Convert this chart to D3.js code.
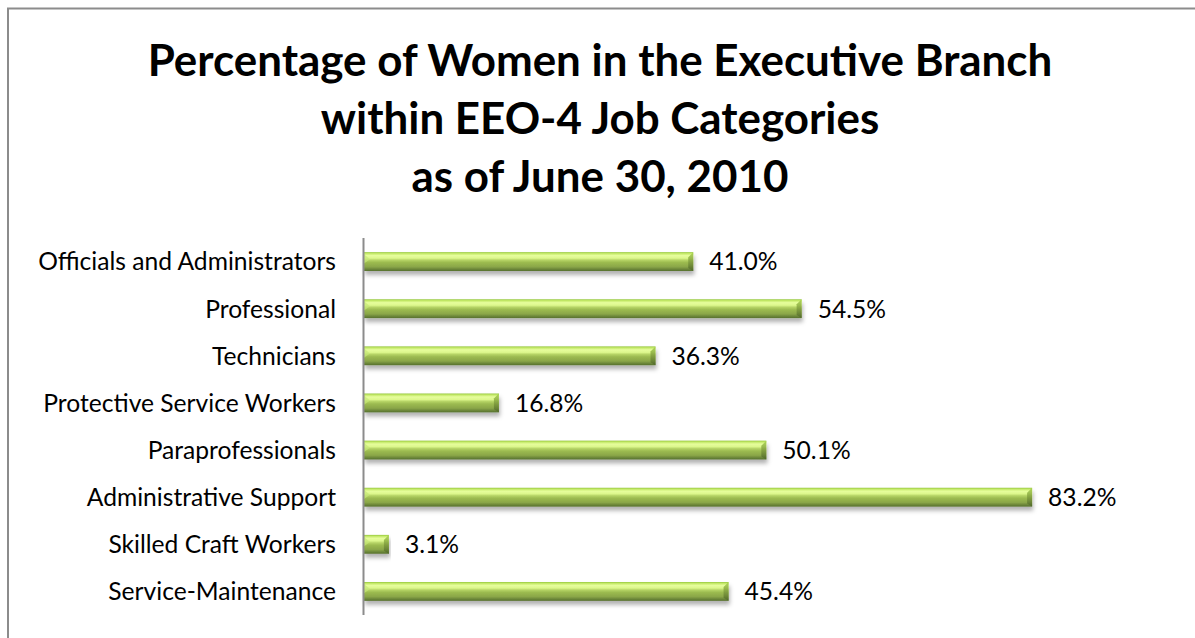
<!DOCTYPE html>
<html>
<head>
<meta charset="utf-8">
<script src="https://cdn.jsdelivr.net/npm/d3@7/dist/d3.min.js"></script>
<style>
  html, body { margin: 0; padding: 0; background: #fff; }
  svg { display: block; }
  text { font-family: Lato, "Open Sans", sans-serif; }
</style>
</head>
<body>
<svg id="chart" width="1195" height="638"></svg>
<script>
const categories = [
  "Officials and Administrators",
  "Professional",
  "Technicians",
  "Protective Service Workers",
  "Paraprofessionals",
  "Administrative Support",
  "Skilled Craft Workers",
  "Service-Maintenance"
];
const values = [41.0, 54.5, 36.3, 16.8, 50.1, 83.2, 3.1, 45.4];
const valueLabels = ["41.0%", "54.5%", "36.3%", "16.8%", "50.1%", "83.2%", "3.1%", "45.4%"];
const titleLines = [
  "Percentage of Women in the Executive Branch",
  "within EEO-4 Job Categories",
  "as of June 30, 2010"
];

const W = 1195, H = 638;
const svg = d3.select("#chart");
const defs = svg.append("defs");

const grad = defs.append("linearGradient")
  .attr("id", "barGrad").attr("x1", 0).attr("y1", 0).attr("x2", 0).attr("y2", 1);
[
  [0, "#94c63c"], [0.07, "#c2e866"], [0.18, "#e6fd9c"], [0.32, "#dcf78c"],
  [0.42, "#b6d466"], [0.55, "#9cbb50"], [0.78, "#8aa648"], [0.88, "#718c3c"], [1, "#56702e"]
].forEach(([o, c]) => grad.append("stop").attr("offset", o).attr("stop-color", c));

const endGrad = defs.append("linearGradient")
  .attr("id", "endGrad").attr("x1", 0).attr("y1", 0).attr("x2", 0).attr("y2", 1);
[[0, "#a8d24e"], [0.5, "#7f9c3e"], [1, "#4d6428"]]
  .forEach(([o, c]) => endGrad.append("stop").attr("offset", o).attr("stop-color", c));

const filt = defs.append("filter").attr("id", "shadow")
  .attr("x", "-5%").attr("y", "-50%").attr("width", "110%").attr("height", "250%");
filt.append("feDropShadow").attr("dx", 1).attr("dy", 4).attr("stdDeviation", 2.2)
  .attr("flood-color", "#000").attr("flood-opacity", 0.3);

// frame
svg.append("path")
  .attr("d", `M8,${H + 5} L8,8.5 L${W + 5},8.5`)
  .attr("fill", "none").attr("stroke", "#8c8c8c").attr("stroke-width", 2);

function fitFont(sel, targetWidth, startSize) {
  sel.style("font-size", startSize + "px");
  const w = sel.node().getComputedTextLength();
  sel.style("font-size", (startSize * targetWidth / w) + "px");
}

// title
const titleBaselines = [76, 134, 192];
const titleG = svg.append("g");
titleLines.forEach((t, i) => {
  titleG.append("text")
    .attr("x", 600).attr("y", titleBaselines[i])
    .attr("text-anchor", "middle")
    .attr("font-weight", "bold")
    .attr("fill", "#000")
    .text(t);
});
const t0 = titleG.select("text");
fitFont(t0, 905, 40);
titleG.selectAll("text").style("font-size", t0.style("font-size"));

// scales
const x = d3.scaleLinear().domain([0, 100]).range([364, 364 + 803]);
const y = d3.scaleBand().domain(categories).range([238, 615]).paddingInner(0.6).paddingOuter(0.3);

// category labels
const catTexts = svg.append("g").selectAll("text").data(categories).join("text")
  .attr("x", 336)
  .attr("y", d => y(d) + y.bandwidth() / 2)
  .attr("dy", "0.36em")
  .attr("text-anchor", "end")
  .attr("fill", "#000")
  .text(d => d);
const c0 = catTexts.filter((d, i) => i === 0);
fitFont(c0, 298, 19);
const catSize = c0.style("font-size");
catTexts.style("font-size", catSize);

// bars
const bars = svg.append("g").selectAll("g").data(categories).join("g")
  .attr("filter", "url(#shadow)");
bars.append("rect")
  .attr("x", x(0))
  .attr("y", d => y(d))
  .attr("width", (d, i) => x(values[i]) - x(0))
  .attr("height", y.bandwidth())
  .attr("fill", "url(#barGrad)");
bars.append("path")
  .attr("d", (d, i) => {
    const x1 = x(values[i]), y0 = y(d), h = y.bandwidth();
    const b = Math.min(5, (x1 - x(0)) / 3);
    return `M${x1 - b},${y0 + b} L${x1},${y0} L${x1},${y0 + h} L${x1 - b},${y0 + h - 3} Z`;
  })
  .attr("fill", "url(#endGrad)").attr("opacity", 0.85);
bars.append("path")
  .attr("d", (d) => {
    const x0 = x(0), y0 = y(d), h = y.bandwidth();
    return `M${x0},${y0 + 2} L${x0 + 6},${y0 + 7} L${x0},${y0 + h * 0.6} Z`;
  })
  .attr("fill", "#c6e878").attr("opacity", 0.7);

// axis line
svg.append("line")
  .attr("x1", x(0) - 0.5).attr("x2", x(0) - 0.5)
  .attr("y1", y.range()[0]).attr("y2", y.range()[1])
  .attr("stroke", "#8c8c8c").attr("stroke-width", 2);

// value labels
svg.append("g").selectAll("text").data(categories).join("text")
  .attr("x", (d, i) => x(values[i]) + 16)
  .attr("y", d => y(d) + y.bandwidth() / 2)
  .attr("dy", "0.36em")
  .attr("fill", "#000")
  .style("font-size", catSize)
  .text((d, i) => valueLabels[i]);
</script>
</body>
</html>
